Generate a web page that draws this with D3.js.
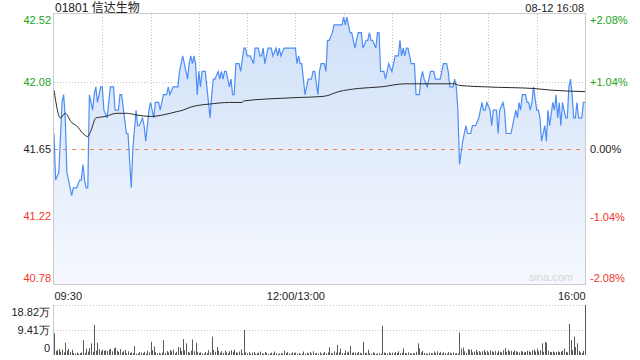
<!DOCTYPE html>
<html>
<head>
<meta charset="utf-8">
<script src="https://cdn.jsdelivr.net/npm/d3@7"></script>
<style>
  body { margin: 0; background: #fff; }
  svg { display: block; font-family: "Liberation Sans", Arial, "Noto Sans CJK SC", sans-serif; }
</style>
</head>
<body>
<div id="chart"></div>
<script>
// header texts
var title = "01801 信达生物";
var stamp = "08-12 16:08";

// tick labels
var priceTicks = [42.52, 42.08, 41.65, 41.22, 40.78];
var pctTicks = ["+2.08%", "+1.04%", "0.00%", "-1.04%", "-2.08%"];
var timeTicks = ["09:30", "12:00/13:00", "16:00"];
var volTicks = [18.82, 9.41, 0];
var prevClose = 41.65;

// price line
var times = ["09:30","09:31","09:33","09:35","09:36","09:37","09:38","09:41","09:42","09:44",
  "09:46","09:47","09:48","09:49","09:50","09:51","09:52","09:54","09:55","09:56",
  "09:57","09:59","10:00","10:01","10:03","10:05","10:07","10:08","10:10","10:11",
  "10:12","10:15","10:16","10:18","10:19","10:21","10:22","10:23","10:25","10:26",
  "10:27","10:29","10:30","10:32","10:33","10:35","10:36","10:38","10:40","10:41",
  "10:42","10:44","10:47","10:48","10:50","10:52","10:53","10:54","10:55","10:56",
  "10:57","10:58","10:59","11:00","11:01","11:02","11:04","11:05","11:07","11:08",
  "11:09","11:10","11:12","11:13","11:14","11:15","11:16","11:17","11:18","11:19",
  "11:20","11:21","11:22","11:23","11:25","11:26","11:28","11:29","11:30","11:32",
  "11:34","11:35","11:37","11:38","11:39","11:40","11:41","11:43","11:45","11:46",
  "11:48","11:49","11:50","11:51","11:53","12:00",
  "13:01","13:02","13:03","13:04","13:05","13:06","13:07","13:08","13:10","13:11",
  "13:12","13:14","13:15","13:16","13:18","13:19","13:20","13:21","13:23","13:24",
  "13:29","13:30","13:31","13:32","13:34","13:35","13:37","13:38","13:39","13:41",
  "13:42","13:44","13:45","13:46","13:47","13:48","13:50","13:51","13:52","13:53",
  "13:55","13:56","13:57","13:58","14:00","14:01","14:02","14:04","14:05","14:06",
  "14:07","14:08","14:09","14:10","14:12","14:14","14:15","14:17","14:18","14:19",
  "14:20","14:22","14:23","14:24","14:26","14:27","14:30","14:31","14:32","14:34",
  "14:35","14:36","14:38","14:39","14:40","14:41","14:42","14:44","14:45","14:46",
  "14:47","14:49","14:50","14:52","14:54","14:55","14:56","14:57","14:58","14:59",
  "15:01","15:02","15:03","15:05","15:06","15:07","15:09","15:10","15:11","15:14",
  "15:16","15:17","15:18","15:19","15:20","15:21","15:23","15:24","15:25","15:26",
  "15:27","15:28","15:30","15:31","15:32","15:33","15:35","15:36","15:37","15:38",
  "15:40","15:41","15:42","15:43","15:44","15:45","15:46","15:48","15:49","15:50",
  "15:51","15:52","15:53","15:54","15:55","15:56","15:58","15:59","16:00"];
var prices = [41.75,41.45,41.50,41.95,42.00,41.85,41.50,41.35,41.40,41.40,
  41.45,41.45,41.55,41.45,41.40,41.40,42.00,41.90,42.00,42.05,
  41.95,42.05,42.05,41.90,41.85,42.05,42.05,41.90,41.90,42.00,
  42.00,41.75,41.75,41.40,41.65,41.90,41.80,41.80,41.85,41.80,
  41.70,41.90,41.95,41.85,41.95,41.95,41.90,42.00,42.00,42.05,
  42.00,42.05,42.05,42.15,42.25,42.15,42.10,42.20,42.25,42.20,
  42.25,42.20,42.00,42.15,42.05,42.15,42.15,42.05,41.85,42.00,
  42.10,42.10,42.15,42.10,42.15,42.10,42.15,42.15,42.10,42.05,
  42.10,42.00,42.00,42.20,42.20,42.15,42.30,42.30,42.25,42.25,
  42.20,42.30,42.30,42.25,42.25,42.30,42.20,42.30,42.30,42.25,
  42.30,42.25,42.30,42.25,42.30,42.30,
  42.20,42.25,42.20,42.20,42.10,42.00,42.05,42.10,42.10,42.15,
  42.15,42.00,42.15,42.20,42.20,42.15,42.35,42.35,42.40,42.45,
  42.45,42.50,42.45,42.50,42.40,42.40,42.30,42.35,42.40,42.40,
  42.30,42.35,42.35,42.40,42.35,42.35,42.30,42.40,42.40,42.15,
  42.15,42.10,42.15,42.20,42.15,42.20,42.25,42.25,42.35,42.25,
  42.30,42.25,42.30,42.30,42.20,42.20,42.00,42.00,42.10,42.15,
  42.10,42.05,42.10,42.15,42.15,42.10,42.10,42.15,42.20,42.20,
  42.15,42.05,42.05,42.10,42.05,41.90,41.55,41.70,41.75,41.80,
  41.75,41.75,41.80,41.80,41.85,41.90,41.95,41.90,41.90,41.95,
  41.90,41.80,41.90,41.90,41.75,41.90,41.95,41.90,41.75,41.75,
  41.85,41.90,41.85,41.95,41.90,42.00,42.00,41.95,41.95,41.90,
  41.95,42.05,41.90,41.90,41.85,41.70,41.80,41.70,41.90,41.80,
  41.95,41.90,42.00,41.85,41.95,41.80,41.95,41.85,41.85,42.05,
  42.10,42.00,41.85,41.85,41.95,41.85,41.85,41.95,41.95];

// average price line
var avgTimes = ["09:30","09:34","09:37","09:41","09:44","09:48","09:51","09:53","09:56","10:02",
  "10:09","10:15","10:21","10:30","10:38","10:46","10:50","10:55","10:59","11:07",
  "11:19","11:27","11:28","11:58","13:18","13:27","13:39","13:53","14:08","14:39",
  "14:42","14:59","15:28","15:38","16:00"];
var avgPrices = [42.03,41.85,41.88,41.82,41.80,41.75,41.73,41.77,41.85,41.86,
  41.88,41.88,41.87,41.86,41.87,41.89,41.90,41.92,41.93,41.94,
  41.95,41.95,41.96,41.98,41.99,42.02,42.04,42.05,42.07,42.07,
  42.06,42.05,42.04,42.03,42.02];

// volume per minute in 万 shares, 09:30 .. 16:00 (331 bars)
var volumes = [
  8.2,1.5,1.9,2.2,1.2,2.0,1.0,4.6,1.6,2.3,1.2,2.0,0.8,0.6,0.9,0.5,0.7,1.0,5.6,0.8,2.4,1.3,2.6,4.4,1.2,11.3,1.6,4.6,2.2,1.4,
  2.0,1.6,1.8,1.5,2.0,2.3,1.4,2.5,2.8,1.6,1.2,2.2,1.0,1.5,1.9,0.6,1.4,0.8,1.0,0.7,3.4,0.5,0.6,1.1,0.9,0.7,1.2,0.5,1.6,1.0,
  5.0,1.8,3.2,1.0,0.6,0.8,0.5,0.9,5.6,0.8,1.5,1.0,1.9,1.4,2.0,0.7,1.2,3.0,2.8,1.5,6.0,1.8,4.4,1.2,0.9,1.6,5.8,1.4,4.6,1.2,
  0.8,1.0,0.6,0.5,1.1,0.7,1.8,1.0,6.9,1.9,1.2,3.0,1.6,0.9,1.4,0.8,1.6,1.0,0.7,1.4,1.8,1.2,2.0,1.0,0.8,1.3,2.1,0.6,9.4,1.0,
  0.6,1.1,0.5,0.9,1.2,0.4,0.7,0.9,1.3,0.6,0.5,1.1,0.8,0.4,0.6,0.9,0.5,1.3,0.7,0.4,0.6,0.8,0.5,1.6,0.7,1.1,0.6,0.5,1.0,0.8,
  0.9,0.5,0.7,0.4,0.6,1.3,0.5,0.9,0.6,1.2,0.5,1.4,0.6,0.8,0.5,1.0,0.4,0.7,1.1,0.6,1.0,2.9,0.8,0.6,1.4,0.9,3.8,1.0,2.4,0.8,
  0.6,1.7,0.9,1.3,3.4,0.8,1.0,0.9,0.7,1.1,0.8,0.6,5.0,0.9,0.7,2.0,0.6,0.5,1.0,0.8,0.4,0.6,0.7,0.5,11.0,0.9,0.8,0.6,1.0,0.7,
  0.9,0.6,1.1,0.8,1.4,0.7,0.9,2.5,0.8,0.6,1.0,0.7,0.5,0.8,0.6,1.2,4.4,2.5,1.0,1.5,0.8,0.6,0.5,0.9,0.7,0.6,1.3,0.8,1.4,0.7,
  1.2,0.6,1.0,0.8,0.5,1.1,0.9,0.6,1.0,0.5,0.7,0.6,8.4,2.4,2.8,1.4,0.8,2.2,1.9,2.1,1.0,1.3,1.9,1.2,1.5,1.0,1.4,1.9,1.2,1.6,
  1.0,1.7,1.4,1.1,1.5,0.9,1.6,1.2,1.0,1.8,2.6,1.2,1.9,1.4,1.6,1.1,1.7,1.4,1.2,1.0,1.5,1.3,1.0,1.2,1.6,1.4,1.1,1.8,2.0,1.3,
  2.4,1.4,1.8,4.4,1.2,5.0,4.6,1.6,1.2,1.1,1.3,1.0,1.2,1.4,1.1,1.3,1.6,2.4,1.2,1.0,11.7,5.6,1.8,6.9,3.0,4.4,1.5,1.0,0.8,1.6,
  18.82];

// minutes since 09:30, lunch break skipped
function tradingMinute(t) {
  var hm = t.split(":"), m = +hm[0] * 60 + +hm[1];
  return m <= 720 ? m - 570 : m - 780 + 150;
}

var width = 640, height = 360;
var plotLeft = 54, plotRight = 585, plotTop = 14, plotBottom = 284;
var volTop = 305, volBottom = 355;
var green = "#21a321", red = "#f0362c", ink = "#222";

var svg = d3.select("#chart")
  .append("svg")
  .attr("width", width)
  .attr("height", height);

var x = d3.scaleLinear().domain([0, 330]).range([plotLeft, plotRight]);
var y = d3.scaleLinear().domain([40.78, 42.52]).range([plotBottom, plotTop]);
var yPct = d3.scaleLinear().domain([-2.08, 2.08]).range([plotBottom, plotTop]);
var yVol = d3.scaleLinear().domain([0, 18.82]).range([volBottom, volTop]);

// area gradient
var grad = svg.append("defs").append("linearGradient")
  .attr("id", "fill").attr("x1", 0).attr("y1", 0).attr("x2", 0).attr("y2", 1);
grad.append("stop").attr("offset", "0%").attr("stop-color", "#d0e0f8");
grad.append("stop").attr("offset", "100%").attr("stop-color", "#f5f8fe");

// title + timestamp
svg.append("text").attr("x", plotLeft + 1).attr("y", 12)
  .style("font-size", "12px").attr("fill", "#222").text(title);
svg.append("text").attr("x", plotRight - 1).attr("y", 12).attr("text-anchor", "end")
  .style("font-size", "11px").attr("fill", "#222").text(stamp);

// vertical grid every 30 min
svg.append("g").selectAll("line")
  .data(d3.range(30, 330, 30))
  .enter().append("line")
  .attr("x1", d => Math.round(x(d)) + 0.5).attr("x2", d => Math.round(x(d)) + 0.5)
  .attr("y1", plotTop).attr("y2", plotBottom)
  .attr("stroke", "#c4c4c4").attr("stroke-dasharray", "1,2");

// horizontal grid
svg.append("g").selectAll("line")
  .data([42.08, 41.65, 41.22])
  .enter().append("line")
  .attr("x1", plotLeft).attr("x2", plotRight)
  .attr("y1", d => Math.round(y(d)) + 0.5).attr("y2", d => Math.round(y(d)) + 0.5)
  .attr("stroke", "#c4c4c4").attr("stroke-dasharray", "1,2");

// price area and line
var pts = times.map((t, i) => ({ m: tradingMinute(t), p: prices[i] }));

svg.append("path")
  .datum(pts)
  .attr("fill", "url(#fill)")
  .attr("d", d3.area()
    .x(d => x(d.m))
    .y0(plotBottom)
    .y1(d => y(d.p)));

// previous close line
svg.append("line")
  .attr("x1", plotLeft).attr("x2", plotRight)
  .attr("y1", Math.round(y(prevClose)) + 0.5).attr("y2", Math.round(y(prevClose)) + 0.5)
  .attr("stroke", "#e9844c").attr("stroke-dasharray", "4,5");

svg.append("path")
  .datum(pts)
  .attr("fill", "none")
  .attr("stroke", "#4d8ef5")
  .attr("stroke-width", 1.2)
  .attr("d", d3.line()
    .x(d => x(d.m))
    .y(d => y(d.p)));

svg.append("path")
  .datum(avgTimes.map((t, i) => ({ m: tradingMinute(t), p: avgPrices[i] })))
  .attr("fill", "none")
  .attr("stroke", "#2a2a2a")
  .attr("stroke-width", 1)
  .attr("d", d3.line()
    .curve(d3.curveMonotoneX)
    .x(d => x(d.m))
    .y(d => y(d.p)));

// frame
svg.append("rect")
  .attr("x", plotLeft - 0.5).attr("y", plotTop - 0.5)
  .attr("width", plotRight - plotLeft + 1).attr("height", plotBottom - plotTop + 1)
  .attr("fill", "none").attr("stroke", "#ccc");

// watermark
svg.append("text").attr("x", plotRight - 12).attr("y", plotBottom - 3).attr("text-anchor", "end")
  .style("font-size", "11px").attr("fill", "#d4d4d4").text("sina.com");

function colorOf(i) {
  return i < 2 ? green : (i == 2 ? ink : red);
}

// left price axis
var ax = svg.append("g")
  .attr("transform", "translate(" + plotLeft + ",0)")
  .call(d3.axisLeft(y).tickValues(priceTicks).tickSize(0).tickPadding(3).tickFormat(d3.format(".2f")));
ax.select(".domain").remove();
ax.selectAll("text")
  .style("font-size", "11px").style("font-family", null)
  .attr("fill", (d, i) => colorOf(i))
  .attr("dy", (d, i) => i == 0 ? "0.9em" : (i == 4 ? "-0.2em" : "0.32em"));

// right percent axis
var ar = svg.append("g")
  .attr("transform", "translate(" + plotRight + ",0)")
  .call(d3.axisRight(yPct).tickValues([2.08, 1.04, 0, -1.04, -2.08]).tickSize(0).tickPadding(5)
    .tickFormat((d, i) => pctTicks[i]));
ar.select(".domain").remove();
ar.selectAll("text")
  .style("font-size", "11px").style("font-family", null)
  .attr("fill", (d, i) => colorOf(i))
  .attr("dy", (d, i) => i == 0 ? "0.9em" : (i == 4 ? "-0.2em" : "0.32em"));

// time axis
var at = svg.append("g")
  .attr("transform", "translate(0," + plotBottom + ")")
  .call(d3.axisBottom(x).tickValues([0, 150, 330]).tickSize(0).tickPadding(8)
    .tickFormat((d, i) => timeTicks[i]));
at.select(".domain").remove();
at.selectAll("text")
  .style("font-size", "11px").style("font-family", null).attr("fill", ink)
  .attr("text-anchor", (d, i) => i == 0 ? "start" : (i == 2 ? "end" : "middle"));

// volume panel
svg.append("g").selectAll("line")
  .data([18.82, 9.41])
  .enter().append("line")
  .attr("x1", plotLeft).attr("x2", plotRight)
  .attr("y1", d => Math.round(yVol(d)) + 0.5).attr("y2", d => Math.round(yVol(d)) + 0.5)
  .attr("stroke", "#c4c4c4").attr("stroke-dasharray", "1,2");

svg.append("line")
  .attr("x1", plotLeft - 0.5).attr("x2", plotLeft - 0.5)
  .attr("y1", volTop).attr("y2", volBottom)
  .attr("stroke", "#ccc");

svg.append("g").selectAll("rect")
  .data(volumes)
  .enter().append("rect")
  .attr("x", (d, i) => Math.round(x(i)))
  .attr("width", 1)
  .attr("y", d => yVol(d))
  .attr("height", d => volBottom - yVol(d))
  .attr("fill", "#5a5a5a");

var av = svg.append("g")
  .attr("transform", "translate(" + plotLeft + ",0)")
  .call(d3.axisLeft(yVol).tickValues(volTicks).tickSize(0).tickPadding(4)
    .tickFormat(d => d ? d + "万" : "0"));
av.select(".domain").remove();
av.selectAll("text")
  .style("font-size", "11px").style("font-family", null).attr("fill", ink)
  .attr("dy", (d, i) => i == 0 ? "0.95em" : (i == 2 ? "-0.3em" : "0.32em"));
</script>
</body>
</html>
